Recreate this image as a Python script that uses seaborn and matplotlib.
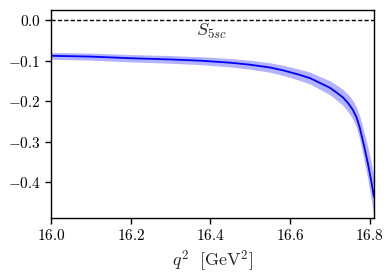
import numpy as np
import pandas as pd
import seaborn as sns
import matplotlib.pyplot as plt
from matplotlib.ticker import FuncFormatter

# values
q2 = [16.0, 16.1, 16.2, 16.3, 16.374, 16.45, 16.5, 16.55, 16.583, 16.624, 16.65, 16.675,
      16.7, 16.716, 16.733, 16.746, 16.758, 16.767, 16.775, 16.787, 16.796, 16.803, 16.811]
s5 = [-0.088, -0.090, -0.094, -0.097, -0.100, -0.105, -0.110, -0.117, -0.124, -0.135, -0.143, -0.155,
      -0.167, -0.178, -0.191, -0.205, -0.222, -0.240, -0.265, -0.315, -0.356, -0.392, -0.437]
s5_err = [0.0085, 0.0087, 0.0091, 0.0095, 0.0098, 0.0104, 0.0110, 0.0118, 0.0126, 0.0138, 0.0148, 0.0160,
          0.0173, 0.0185, 0.0200, 0.0215, 0.0233, 0.0255, 0.0285, 0.0350, 0.0400, 0.0440, 0.0490]

df = pd.DataFrame({'q2': q2, 'S5sc': s5, 'err': s5_err})
df['lo'] = df['S5sc'] - df['err']
df['hi'] = df['S5sc'] + df['err']

sns.set_style('ticks')
plt.rcParams['font.family'] = ['DejaVu Serif']
plt.rcParams['mathtext.fontset'] = 'cm'

fig = plt.figure(figsize=(3.9, 2.73), dpi=100)
ax = fig.add_axes([0.131, 0.2015, 0.828, 0.7615])

ax.fill_between(df['q2'], df['lo'], df['hi'], color='blue', alpha=0.3, linewidth=0)
sns.lineplot(data=df, x='q2', y='S5sc', ax=ax, color='blue', linewidth=1.3)
ax.axhline(0, color='black', linestyle='--', linewidth=1.0, dashes=(3, 1.6))

ax.text(16.403, -0.028, r'$S_{5sc}$', fontsize=13, ha='center', va='center')

ax.set_xlim(16.0, 16.811)
ax.set_ylim(-0.489, 0.025)
ax.set_xticks([16.0, 16.2, 16.4, 16.6, 16.8])
ax.set_yticks([0.0, -0.1, -0.2, -0.3, -0.4])
fmt = FuncFormatter(lambda v, p: r'$%.1f$' % v)
ax.xaxis.set_major_formatter(fmt)
ax.yaxis.set_major_formatter(fmt)
ax.tick_params(labelsize=11, direction='out', length=4, width=1, colors='black')
for sp in ax.spines.values():
    sp.set_color('black')
    sp.set_linewidth(1.0)

ax.set_xlabel(r'$q^2\ \ [\mathrm{GeV}^2]$', fontsize=13)
ax.set_ylabel('')

fig.savefig('out.png', dpi=100)
